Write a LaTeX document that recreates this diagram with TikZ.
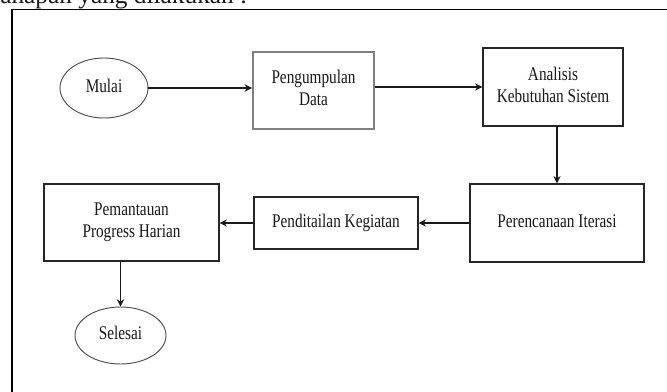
\documentclass[tikz,border=0pt]{standalone}
\usepackage{fontspec}
\setmainfont{Liberation Serif}
\usepackage{graphicx}
\usetikzlibrary{arrows.meta,shapes.geometric}

% narrow, centred label text (one or more lines)
\newcommand{\lbl}[1]{\scalebox{0.79}[1]{\begin{tabular}{@{}c@{}}#1\end{tabular}}}

\begin{document}
\begin{tikzpicture}[x=0.75pt,y=-0.75pt,
  every node/.style={font=\fontsize{14.5}{16.5}\selectfont, inner sep=0pt, text=black!90},
  box/.style={draw=black!85, line width=0.9pt, rectangle},
  graybox/.style={draw=black!50, line width=1.5pt, rectangle},
  oval/.style={draw=black!70, line width=0.7pt, ellipse},
  arr/.style={draw=black!90, line width=0.8pt, -{Stealth[length=5.5pt,width=5.5pt]}},
  frame/.style={draw=black, line width=1pt}]
\useasboundingbox (0,0) rectangle (667,392);
\clip (0,0) rectangle (667,392);

% heading line of the page above the frame
\node[anchor=base west, font=\fontsize{19}{22}\selectfont] (judul) at (-7,3.5) {tahapan yang dilakukan :};

% frame around the flow
\draw[frame] (12,400) -- (12,9.5) -- (680,9.5);

% steps
\node[oval, minimum width=66pt, minimum height=45pt] (mulai) at (104,88) {\lbl{Mulai}};
\node[graybox, minimum width=90.75pt, minimum height=57.75pt] (kumpul) at (313.5,90.5) {\lbl{Pengumpulan\\Data}};
\node[box, minimum width=105pt, minimum height=58.5pt] (analisis) at (553,87) {\lbl{Analisis\\Kebutuhan Sistem}};
\node[box, minimum width=130.5pt, minimum height=58.5pt] (rencana) at (557,223) {\lbl{Perencanaan Iterasi}};
\node[box, minimum width=123pt, minimum height=39pt] (rinci) at (336,223) {\lbl{Penditailan Kegiatan}};
\node[box, minimum width=131.25pt, minimum height=57.75pt] (pantau) at (131.5,222.5) {\lbl{Pemantauan\\Progress Harian}};
\node[oval, minimum width=68.25pt, minimum height=42.75pt] (selesai) at (120.5,335.5) {\lbl{Selesai}};

% flow
\draw[arr] (mulai.east) -- (mulai.east -| kumpul.west);
\draw[arr] (kumpul.east |- analisis.west) -- (analisis.west);
\draw[arr] (analisis.south -| rencana.north) -- (rencana.north);
\draw[arr] (rencana.west) -- (rinci.east);
\draw[arr] (rinci.west) -- (pantau.east |- rinci.west);
\draw[arr] (selesai.north |- pantau.south) -- (selesai.north);
\end{tikzpicture}
\end{document}
